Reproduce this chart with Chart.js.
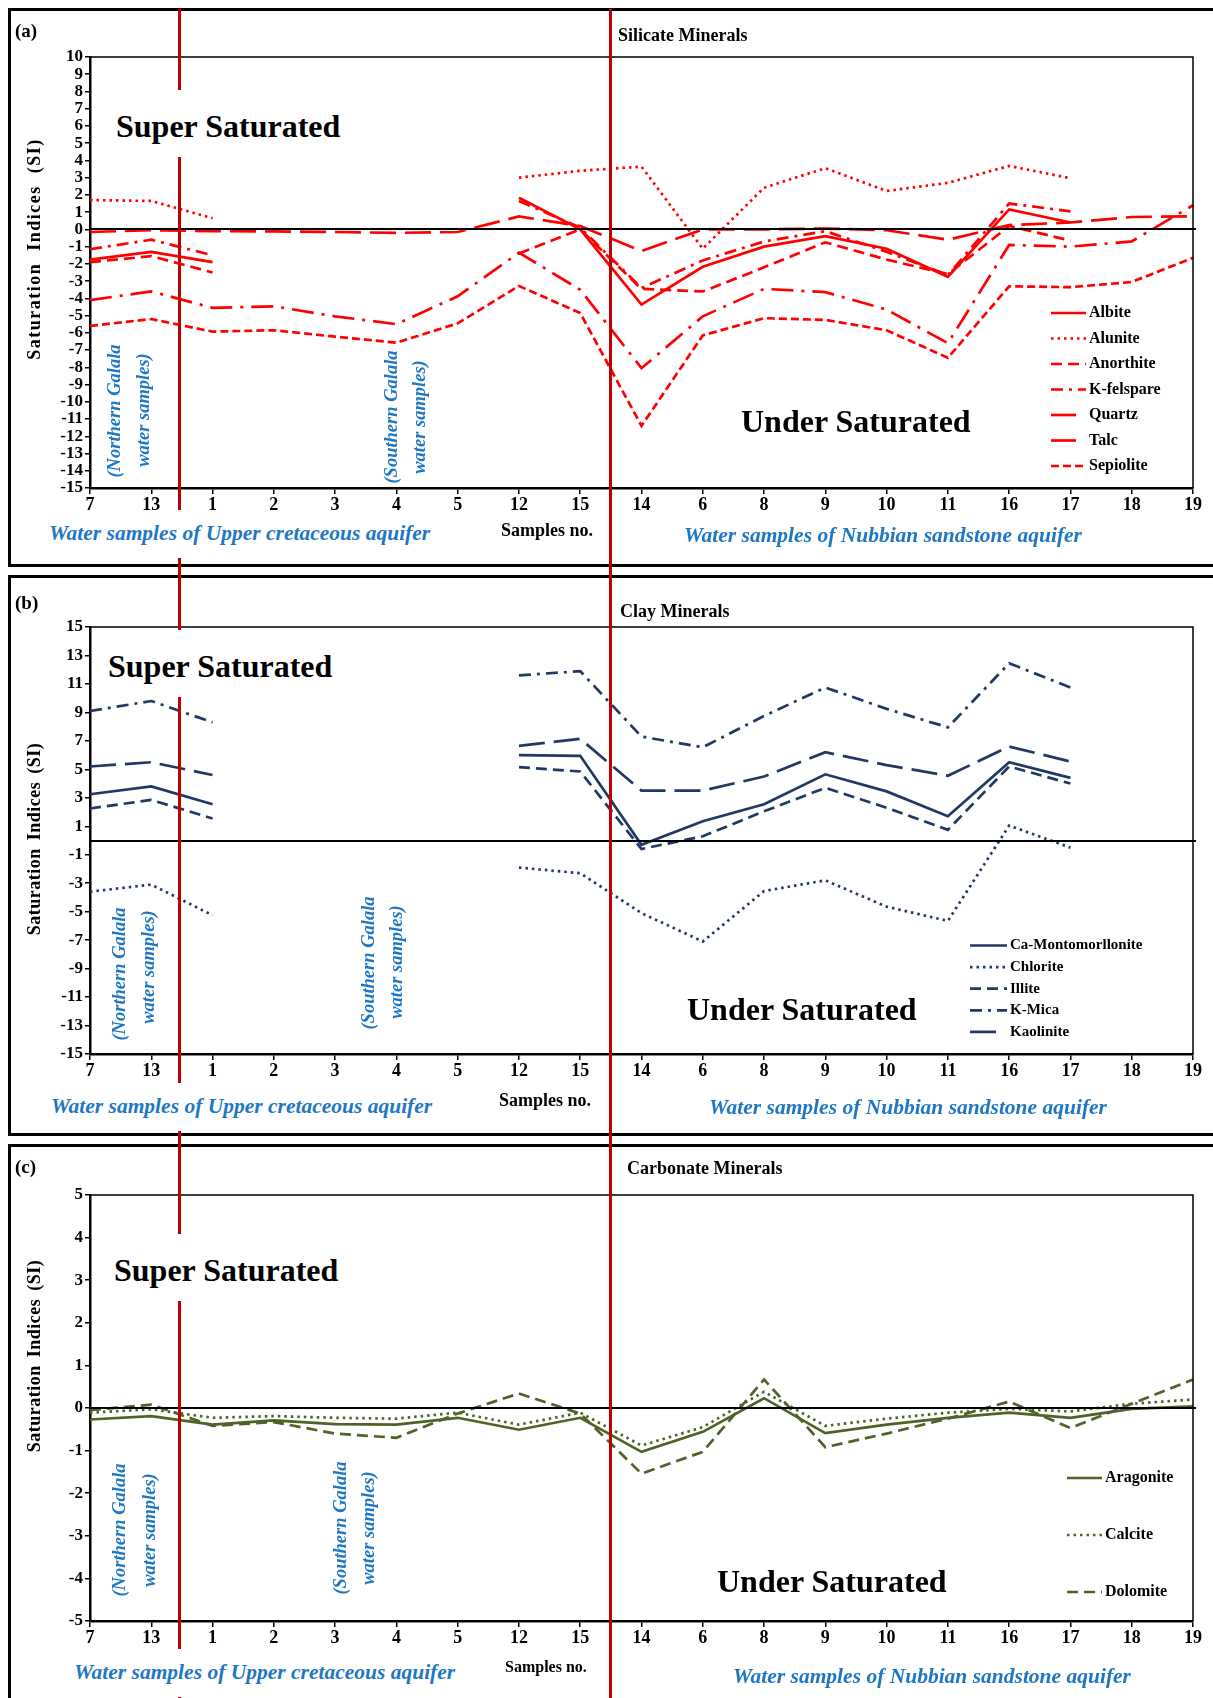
<!DOCTYPE html>
<html>
<head>
<meta charset="utf-8">
<script src="https://cdn.jsdelivr.net/npm/chart.js@4.4.1/dist/chart.umd.min.js"></script>
<style>
  body { margin: 0; background: #fff; }
  #page { position: relative; width: 1213px; height: 1698px; overflow: hidden; font-family: "Liberation Serif", "Times New Roman", serif; }
  canvas { position: absolute; left: 0; z-index: 0; }
  .box { position: absolute; border: 3px solid #000; box-sizing: border-box; z-index: 1; }
  .red { position: absolute; width: 3px; background: #c00000; top: 9px; height: 1689px; }
  .txt { position: absolute; white-space: nowrap; line-height: 1; font-weight: bold; color: #000; z-index: 3; }
  .blue { color: #1f77c4; font-style: italic; }
</style>
</head>
<body>
<div id="page">
  <canvas id="chartA" width="1213" height="570" style="top:0px"></canvas>
  <canvas id="chartB" width="1213" height="570" style="top:570px"></canvas>
  <canvas id="chartC" width="1213" height="558" style="top:1140px"></canvas>

  <div class="box" style="left:8px;top:8px;width:1230px;height:559px"></div>
  <div class="box" style="left:8px;top:575px;width:1230px;height:561px"></div>
  <div class="box" style="left:8px;top:1144px;width:1230px;height:600px"></div>

  <div class="red" id="red1" style="z-index:2"></div>
  <div class="red" id="red2" style="z-index:4"></div>
</div>

<script>
// sample order along the x axis
var categories = ["7", "13", "1", "2", "3", "4", "5", "12", "15", "14", "6", "8", "9", "10", "11", "16", "17", "18", "19"];

// (a) Silicate minerals
var albite    = [-1.75, -1.3, -1.9, null, null, null, null, 1.84, 0.0, -4.36, -2.17, -1.0, -0.39, -1.12, -2.75, 1.16, 0.4, null, null];
var alunite   = [1.7, 1.65, 0.65, null, null, null, null, 3.0, 3.4, 3.64, -1.12, 2.42, 3.55, 2.23, 2.7, 3.68, 2.97, null, null];
var anorthite = [-1.9, -1.55, -2.5, null, null, null, null, -1.4, 0.0, -3.45, -3.6, -2.2, -0.75, -1.75, -2.6, 0.2, -0.65, null, null];
var kfelspare = [-1.15, -0.6, -1.5, null, null, null, null, 1.65, 0.1, -3.4, -1.8, -0.7, -0.1, -1.3, -2.65, 1.5, 1.05, null, null];
var quartz    = [-0.15, -0.05, -0.1, -0.12, -0.15, -0.2, -0.15, 0.75, 0.2, -1.25, 0.0, 0.0, 0.05, -0.05, -0.6, 0.25, 0.4, 0.72, 0.76];
var talc      = [-4.1, -3.6, -4.55, -4.46, -5.04, -5.5, -3.88, -1.35, -3.5, -8.05, -5.04, -3.45, -3.64, -4.65, -6.6, -0.9, -1.0, -0.7, 1.4];
var sepiolite = [-5.6, -5.2, -5.93, -5.85, -6.22, -6.57, -5.45, -3.28, -4.85, -11.4, -6.15, -5.15, -5.25, -5.85, -7.45, -3.3, -3.35, -3.05, -1.65];

// (b) Clay minerals
var caMont    = [3.25, 3.8, 2.55, null, null, null, null, 6.0, 5.95, -0.3, 1.35, 2.55, 4.65, 3.45, 1.7, 5.5, 4.4, null, null];
var chlorite  = [-3.6, -3.1, -5.25, null, null, null, null, -1.9, -2.3, -5.1, -7.1, -3.55, -2.8, -4.65, -5.65, 1.05, -0.5, null, null];
var illite    = [2.25, 2.85, 1.55, null, null, null, null, 5.15, 4.85, -0.6, 0.3, 2.05, 3.7, 2.3, 0.75, 5.2, 4.0, null, null];
var kMica     = [9.1, 9.8, 8.3, null, null, null, null, 11.6, 11.9, 7.3, 6.55, 8.75, 10.75, 9.25, 7.95, 12.45, 10.75, null, null];
var kaolinite = [5.2, 5.5, 4.6, null, null, null, null, 6.65, 7.15, 3.5, 3.5, 4.5, 6.2, 5.3, 4.55, 6.6, 5.55, null, null];

// (c) Carbonate minerals
var aragonite = [-0.27, -0.19, -0.39, -0.29, -0.38, -0.39, -0.23, -0.51, -0.23, -1.03, -0.56, 0.23, -0.59, -0.39, -0.23, -0.11, -0.23, -0.02, 0.04];
var calcite   = [-0.11, -0.03, -0.23, -0.19, -0.23, -0.25, -0.11, -0.39, -0.11, -0.88, -0.45, 0.38, -0.42, -0.25, -0.11, -0.02, -0.08, 0.1, 0.2];
var dolomite  = [-0.05, 0.08, -0.42, -0.33, -0.6, -0.7, -0.13, 0.34, -0.13, -1.54, -1.03, 0.67, -0.92, -0.6, -0.25, 0.15, -0.47, 0.1, 0.67];

// y tick values of each panel
var yTicksA = [10, 9, 8, 7, 6, 5, 4, 3, 2, 1, 0, -1, -2, -3, -4, -5, -6, -7, -8, -9, -10, -11, -12, -13, -14, -15];
var yTicksB = [15, 13, 11, 9, 7, 5, 3, 1, -1, -3, -5, -7, -9, -11, -13, -15];
var yTicksC = [5, 4, 3, 2, 1, 0, -1, -2, -3, -4, -5];

// aquifer dividers, as positions between sample indices
var dividers = [1.46, 8.5];

var FONT = "'Liberation Serif', 'Times New Roman', serif";
var RED = "#ff0000", NAVY = "#1f3864", GREEN = "#4f6228";

var DOT = [2.5, 4], DASH = [11, 6], DASHDOT = [12, 6, 3, 6], LONG = [26, 9], LONGDOT = [22, 8, 3, 8], SHORT = [8, 4];

function ds(label, data, color, dash, keyLen) {
    return { label: label, data: data, borderColor: color, backgroundColor: color, borderWidth: 2.7, borderDash: dash, pointRadius: 0, tension: 0, spanGaps: false, keyLen: keyLen };
}

// frame, zero line and the hand placed legend
var sketchPlugin = {
    id: "sketch",
    afterDatasetsDraw: function (chart, args, opts) {
        var ctx = chart.ctx, a = chart.chartArea, y = chart.scales.y;
        ctx.save();
        ctx.strokeStyle = "#000";
        ctx.lineWidth = 1.5;
        ctx.beginPath();
        ctx.moveTo(a.left, a.top);
        ctx.lineTo(a.right, a.top);
        ctx.lineTo(a.right, a.bottom);
        ctx.stroke();

        var y0 = Math.round(y.getPixelForValue(0));
        ctx.lineWidth = 2.2;
        ctx.beginPath();
        ctx.moveTo(a.left, y0);
        ctx.lineTo(a.right + 3, y0);
        ctx.stroke();

        var lg = opts.legend;
        if (lg) {
            chart.data.datasets.forEach(function (d, i) {
                var ly = lg.y + i * lg.dy;
                ctx.strokeStyle = d.borderColor;
                ctx.lineWidth = 2.7;
                // a single long stroke for the long-dash keys, like the original
                if (d.keyLen) {
                    ctx.setLineDash([]);
                    ctx.beginPath();
                    ctx.moveTo(lg.x, ly);
                    ctx.lineTo(lg.x + d.keyLen, ly);
                    ctx.stroke();
                } else {
                    ctx.setLineDash(d.borderDash || []);
                    ctx.beginPath();
                    ctx.moveTo(lg.x, ly);
                    ctx.lineTo(lg.x + lg.len, ly);
                    ctx.stroke();
                }
                ctx.setLineDash([]);
                ctx.fillStyle = "#000";
                ctx.font = "bold " + lg.size + "px " + FONT;
                ctx.textBaseline = "middle";
                ctx.textAlign = "left";
                ctx.fillText(d.label, lg.x + lg.len + 3, ly);
            });
        }
        ctx.restore();
    }
};

function makeChart(id, height, datasets, yMin, yMax, yTicks, plotTop, plotBottom, legend, ySize) {
    return new Chart(id, {
        type: "line",
        data: { labels: categories, datasets: datasets },
        plugins: [sketchPlugin],
        options: {
            responsive: false,
            animation: false,
            devicePixelRatio: 1,
            layout: { padding: { top: plotTop, right: 20, left: 0, bottom: 0 } },
            plugins: { legend: { display: false }, tooltip: { enabled: false }, sketch: { legend: legend } },
            scales: {
                x: {
                    type: "category",
                    offset: false,
                    grid: { drawOnChartArea: false, color: "#000", tickLength: 6, lineWidth: 1.5 },
                    border: { color: "#000", width: 2.5 },
                    ticks: { color: "#000", font: { family: FONT, size: 18, weight: "bold" }, padding: 1, maxRotation: 0, autoSkip: false },
                    afterFit: function (s) { s.height = height - plotBottom; }
                },
                y: {
                    min: yMin,
                    max: yMax,
                    afterBuildTicks: function (s) { s.ticks = yTicks.map(function (v) { return { value: v }; }); },
                    grid: { drawOnChartArea: false, color: "#000", tickLength: 5, lineWidth: 1.5 },
                    border: { color: "#000", width: 2.5 },
                    ticks: { color: "#000", font: { family: FONT, size: ySize, weight: "bold" }, padding: 2, autoSkip: false },
                    afterFit: function (s) { s.width = 90; }
                }
            }
        }
    });
}

var chartA = makeChart("chartA", 570, [
    ds("Albite", albite, RED, []),
    ds("Alunite", alunite, RED, DOT),
    ds("Anorthite", anorthite, RED, DASH),
    ds("K-felspare", kfelspare, RED, DASHDOT),
    ds("Quartz", quartz, RED, LONG, 25),
    ds("Talc", talc, RED, LONGDOT, 25),
    ds("Sepiolite", sepiolite, RED, SHORT)
], -15, 10, yTicksA, 57, 488, { x: 1051, y: 313, dy: 25.5, len: 35, size: 16 }, 17);

var chartB = makeChart("chartB", 570, [
    ds("Ca-Montomorllonite", caMont, NAVY, []),
    ds("Chlorite", chlorite, NAVY, DOT),
    ds("Illite", illite, NAVY, DASH),
    ds("K-Mica", kMica, NAVY, DASHDOT),
    ds("Kaolinite", kaolinite, NAVY, LONG, 26)
], -15, 15, yTicksB, 57, 484, { x: 970, y: 375.5, dy: 21.6, len: 37, size: 15 }, 17);

var chartC = makeChart("chartC", 558, [
    ds("Aragonite", aragonite, GREEN, []),
    ds("Calcite", calcite, GREEN, DOT),
    ds("Dolomite", dolomite, GREEN, DASH)
], -5, 5, yTicksC, 55, 481, { x: 1067, y: 338, dy: 57, len: 35, size: 16 }, 17);

// red dividers through all three panels, placed from the x scale
var xs = chartA.scales.x;
document.getElementById("red1").style.left = (xs.getPixelForValue(dividers[0]) - 1.5) + "px";
document.getElementById("red2").style.left = (xs.getPixelForValue(dividers[1]) - 1.5) + "px";

// text annotations
var page = document.getElementById("page");
function label(text, x, cy, size, extra) {
    var el = document.createElement("div");
    el.className = "txt" + (extra && extra.cls ? " " + extra.cls : "");
    el.textContent = text;
    el.style.fontSize = size + "px";
    el.style.left = x + "px";
    el.style.top = cy + "px";
    if (extra && extra.rot) {
        el.style.transform = "translate(-50%,-50%) rotate(-90deg)";
        if (extra.ls) el.style.letterSpacing = extra.ls + "px";
        if (extra.ws) el.style.wordSpacing = extra.ws + "px";
    } else if (extra && extra.pad) {
        el.style.background = "#fff";
        el.style.padding = extra.pad;
    } else {
        el.style.transform = "translateY(-50%)";
    }
    page.appendChild(el);
}

var panels = [
    { tag: "(a)", tagY: 30, title: "Silicate Minerals", tx: 618, ty: 35, superX: 110, superY: 126, underX: 741, underY: 421,
      siY: 249, siLs: 1.5, siWs: 6, n1: [114, 411], n2: [143, 410], s1: [391, 417], s2: [419, 417],
      upX: 45, upY: 534, snX: 501, snY: 530, snS: 18, nuX: 684, nuY: 536 },
    { tag: "(b)", tagY: 602, title: "Clay Minerals", tx: 620, ty: 611, superX: 102, superY: 666, underX: 687, underY: 1009,
      siY: 839, siLs: 0.5, siWs: 3, n1: [119, 974], n2: [148, 967], s1: [368, 963], s2: [396, 962],
      upX: 47, upY: 1107, snX: 499, snY: 1100, snS: 18, nuX: 709, nuY: 1108 },
    { tag: "(c)", tagY: 1166, title: "Carbonate Minerals", tx: 627, ty: 1168, superX: 108, superY: 1270, underX: 717, underY: 1581,
      siY: 1356, siLs: 0.5, siWs: 3, n1: [119, 1530], n2: [149, 1530], s1: [340, 1528], s2: [368, 1528],
      upX: 70, upY: 1673, snX: 505, snY: 1667, snS: 16, nuX: 733, nuY: 1677 }
];

panels.forEach(function (p) {
    label(p.tag, 15, p.tagY, 19);
    label(p.title, p.tx, p.ty, 18);
    label("Super Saturated", p.superX, p.superY - 36, 32, { pad: "20px 6px 15px 6px" });
    label("Under Saturated", p.underX, p.underY, 32);
    label("Saturation Indices (SI)", 34, p.siY, 18, { rot: true, ls: p.siLs, ws: p.siWs });
    label("(Northern Galala", p.n1[0], p.n1[1], 18.5, { rot: true, cls: "blue" });
    label("water samples)", p.n2[0], p.n2[1], 18.5, { rot: true, cls: "blue" });
    label("(Southern Galala", p.s1[0], p.s1[1], 18.5, { rot: true, cls: "blue" });
    label("water samples)", p.s2[0], p.s2[1], 18.5, { rot: true, cls: "blue" });
    label("Water samples of Upper cretaceous aquifer", p.upX, p.upY - 24, 21.5, { cls: "blue", pad: "13px 4px 13px 4px" });
    label("Samples no.", p.snX, p.snY, p.snS);
    label("Water samples of Nubbian sandstone aquifer", p.nuX, p.nuY, 21.5, { cls: "blue" });
});
</script>
</body>
</html>
